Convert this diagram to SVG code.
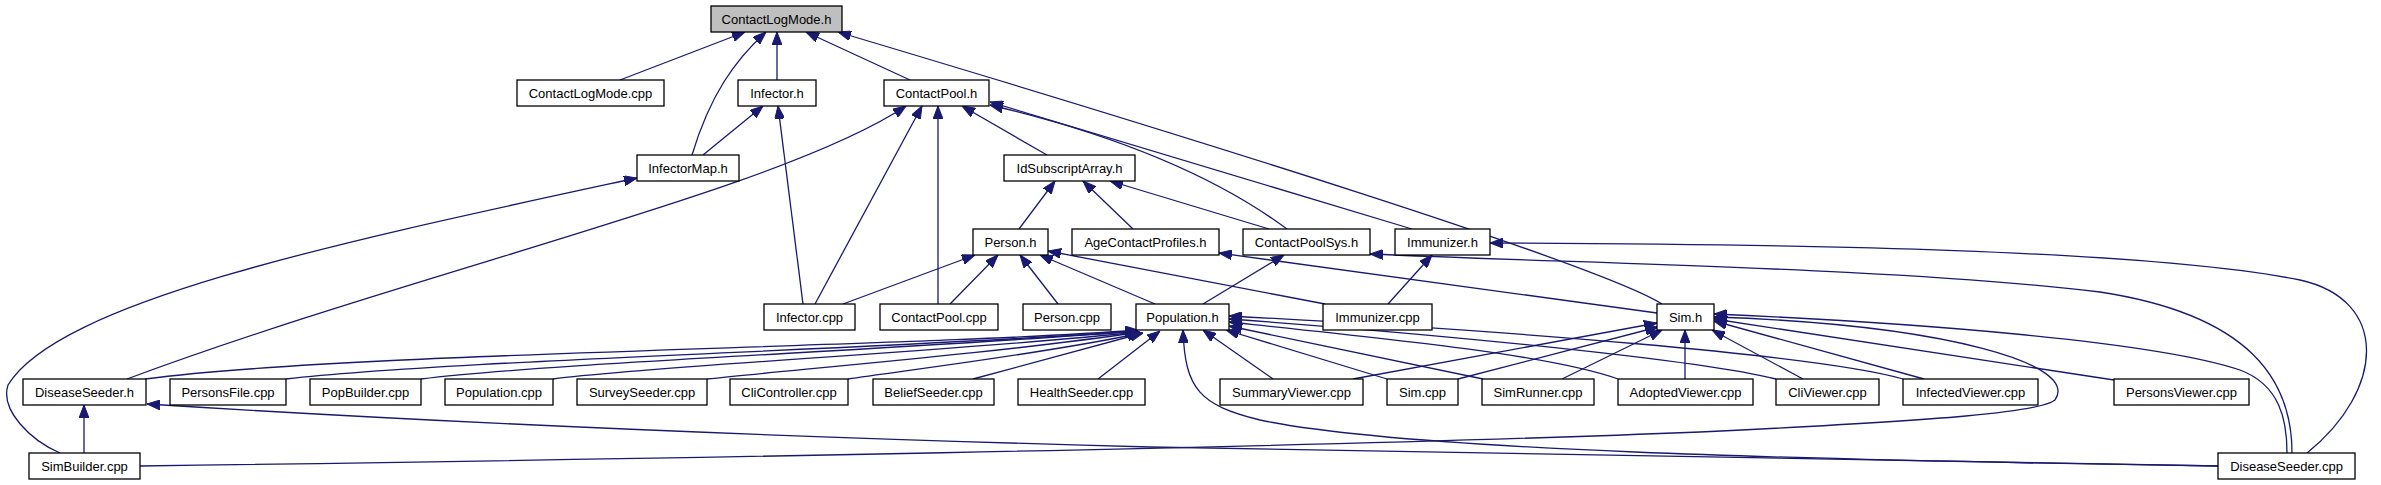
<svg xmlns="http://www.w3.org/2000/svg" width="2381" height="485" viewBox="0 0 2381 485">
<style>
.n rect{fill:#ffffff;stroke:#000000;stroke-width:1.3}
.n.root rect{fill:#bfbfbf}
.n text{font-family:"Liberation Sans",Arial,sans-serif;font-size:13px;fill:#000000;text-anchor:middle}
#edges path{fill:none;stroke:#191970;stroke-width:1.3;marker-start:url(#ah)}
</style>
<defs>
<marker id="ah" markerWidth="13" markerHeight="10" refX="13" refY="5" orient="auto-start-reverse" markerUnits="userSpaceOnUse">
<path d="M0,0 L13,5 L0,10 z" fill="#191970" stroke="#191970" stroke-width="1"/>
</marker>
</defs>
<rect x="0" y="0" width="2381" height="485" fill="#ffffff"/>
<g id="edges">
<path d="M745,32 L620,80"/>
<path d="M766,32 C735,60 710,95 692,155"/>
<path d="M777,32 L777,80"/>
<path d="M806,32 L910,80"/>
<path d="M838,32 C1200,140 1600,265 1662,304"/>
<path d="M763,106 L703,155"/>
<path d="M778,106 L803,304"/>
<path d="M906,106 C780,190 420,270 127,379"/>
<path d="M922,106 L815,304"/>
<path d="M938,106 L938,304"/>
<path d="M962,106 L1047,155"/>
<path d="M990,105 Q1180,150 1287,229"/>
<path d="M990,102 L1412,229"/>
<path d="M637,178 C350,240 60,300 8,385 C0,410 30,440 60,453"/>
<path d="M1055,181 L1019,229"/>
<path d="M1083,181 L1133,229"/>
<path d="M1110,181 L1269,229"/>
<path d="M975,255 L843,304"/>
<path d="M998,255 L950,304"/>
<path d="M1020,255 L1058,304"/>
<path d="M1040,255 L1155,304"/>
<path d="M1048,251 L1325,304"/>
<path d="M1219,253 L1657,313"/>
<path d="M1284,255 L1203,304"/>
<path d="M1370,254 C1600,264 1900,268 2100,292 C2250,315 2292,380 2292,453"/>
<path d="M1432,255 L1388,304"/>
<path d="M1490,243 C1800,244 2150,250 2300,280 C2390,300 2385,390 2307,453"/>
<path d="M1714,314 C1900,322 2150,340 2240,370 C2280,385 2287,420 2287,453"/>
<path d="M1714,317 C1950,325 2080,365 2055,400 C2040,412 1950,420 1700,432 C1300,448 600,460 140,466"/>
<path d="M1714,319 L2114,380"/>
<path d="M1714,321 L1924,379"/>
<path d="M1712,330 L1803,379"/>
<path d="M1685,330 L1685,379"/>
<path d="M1662,330 L1562,379"/>
<path d="M1658,327 L1458,379"/>
<path d="M1657,323 L1353,379"/>
<path d="M1138,330 C900,348 350,352 145,379"/>
<path d="M1138,331 C900,349 450,360 286,379"/>
<path d="M1138,331 C900,350 550,363 421,379"/>
<path d="M1139,332 C950,352 650,366 553,379"/>
<path d="M1140,332 C1000,353 800,369 707,379"/>
<path d="M1141,333 C1050,353 900,371 848,379"/>
<path d="M1143,333 L973,379"/>
<path d="M1160,331 L1098,379"/>
<path d="M1203,330 L1273,379"/>
<path d="M1226,330 L1387,379"/>
<path d="M1229,326 L1483,379"/>
<path d="M1229,322 C1400,340 1550,355 1618,379"/>
<path d="M1229,319 C1450,335 1700,360 1776,379"/>
<path d="M1229,316 C1500,330 1820,355 1903,379"/>
<path d="M1183,330 C1185,390 1200,405 1260,420 C1400,450 1800,460 2218,466"/>
<path d="M147,404 C400,420 700,435 1150,447 C1600,458 2000,463 2218,466"/>
<path d="M84,405 L84,453"/>
</g>
<g id="n0" class="n root"><rect x="711" y="6" width="131" height="26"/><text x="776.5" y="23.5">ContactLogMode.h</text></g>
<g id="n1" class="n"><rect x="517" y="80" width="147" height="26"/><text x="590.5" y="97.5">ContactLogMode.cpp</text></g>
<g id="n2" class="n"><rect x="738" y="80" width="78" height="26"/><text x="777" y="97.5">Infector.h</text></g>
<g id="n3" class="n"><rect x="884" y="80" width="105" height="26"/><text x="936.5" y="97.5">ContactPool.h</text></g>
<g id="n4" class="n"><rect x="637" y="155" width="102" height="26"/><text x="688" y="172.5">InfectorMap.h</text></g>
<g id="n5" class="n"><rect x="1004" y="155" width="131" height="26"/><text x="1069.5" y="172.5">IdSubscriptArray.h</text></g>
<g id="n6" class="n"><rect x="973" y="229" width="75" height="26"/><text x="1010.5" y="246.5">Person.h</text></g>
<g id="n7" class="n"><rect x="1072" y="229" width="147" height="26"/><text x="1145.5" y="246.5">AgeContactProfiles.h</text></g>
<g id="n8" class="n"><rect x="1243" y="229" width="127" height="26"/><text x="1306.5" y="246.5">ContactPoolSys.h</text></g>
<g id="n9" class="n"><rect x="1395" y="229" width="95" height="26"/><text x="1442.5" y="246.5">Immunizer.h</text></g>
<g id="n10" class="n"><rect x="764" y="304" width="91" height="26"/><text x="809.5" y="321.5">Infector.cpp</text></g>
<g id="n11" class="n"><rect x="880" y="304" width="118" height="26"/><text x="939" y="321.5">ContactPool.cpp</text></g>
<g id="n12" class="n"><rect x="1023" y="304" width="88" height="26"/><text x="1067" y="321.5">Person.cpp</text></g>
<g id="n13" class="n"><rect x="1136" y="304" width="93" height="26"/><text x="1182.5" y="321.5">Population.h</text></g>
<g id="n14" class="n"><rect x="1323" y="304" width="109" height="26"/><text x="1377.5" y="321.5">Immunizer.cpp</text></g>
<g id="n15" class="n"><rect x="1657" y="304" width="57" height="26"/><text x="1685.5" y="321.5">Sim.h</text></g>
<g id="n16" class="n"><rect x="23" y="379" width="123" height="26"/><text x="84.5" y="396.5">DiseaseSeeder.h</text></g>
<g id="n17" class="n"><rect x="170" y="379" width="116" height="26"/><text x="228" y="396.5">PersonsFile.cpp</text></g>
<g id="n18" class="n"><rect x="310" y="379" width="111" height="26"/><text x="365.5" y="396.5">PopBuilder.cpp</text></g>
<g id="n19" class="n"><rect x="445" y="379" width="108" height="26"/><text x="499" y="396.5">Population.cpp</text></g>
<g id="n20" class="n"><rect x="577" y="379" width="130" height="26"/><text x="642" y="396.5">SurveySeeder.cpp</text></g>
<g id="n21" class="n"><rect x="730" y="379" width="118" height="26"/><text x="789" y="396.5">CliController.cpp</text></g>
<g id="n22" class="n"><rect x="873" y="379" width="121" height="26"/><text x="933.5" y="396.5">BeliefSeeder.cpp</text></g>
<g id="n23" class="n"><rect x="1018" y="379" width="127" height="26"/><text x="1081.5" y="396.5">HealthSeeder.cpp</text></g>
<g id="n24" class="n"><rect x="1220" y="379" width="143" height="26"/><text x="1291.5" y="396.5">SummaryViewer.cpp</text></g>
<g id="n25" class="n"><rect x="1387" y="379" width="71" height="26"/><text x="1422.5" y="396.5">Sim.cpp</text></g>
<g id="n26" class="n"><rect x="1482" y="379" width="112" height="26"/><text x="1538" y="396.5">SimRunner.cpp</text></g>
<g id="n27" class="n"><rect x="1618" y="379" width="135" height="26"/><text x="1685.5" y="396.5">AdoptedViewer.cpp</text></g>
<g id="n28" class="n"><rect x="1776" y="379" width="103" height="26"/><text x="1827.5" y="396.5">CliViewer.cpp</text></g>
<g id="n29" class="n"><rect x="1903" y="379" width="135" height="26"/><text x="1970.5" y="396.5">InfectedViewer.cpp</text></g>
<g id="n30" class="n"><rect x="2114" y="379" width="135" height="26"/><text x="2181.5" y="396.5">PersonsViewer.cpp</text></g>
<g id="n31" class="n"><rect x="29" y="453" width="111" height="26"/><text x="84.5" y="470.5">SimBuilder.cpp</text></g>
<g id="n32" class="n"><rect x="2218" y="453" width="137" height="26"/><text x="2286.5" y="470.5">DiseaseSeeder.cpp</text></g>
</svg>
